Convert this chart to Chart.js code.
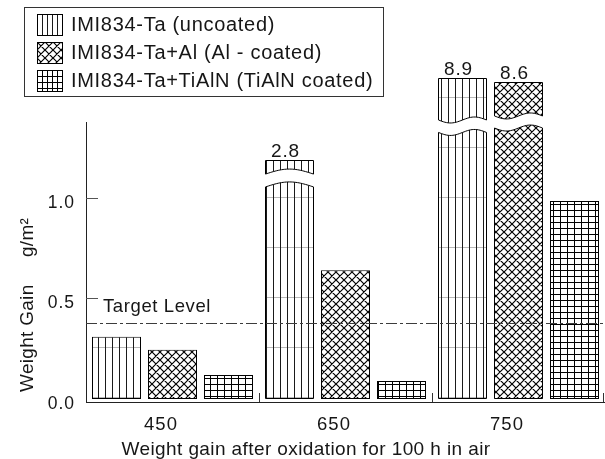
<!DOCTYPE html>
<html>
<head>
<meta charset="utf-8">
<style>
  html, body { margin: 0; padding: 0; background: #fff; }
  #wrap { position: relative; width: 605px; height: 459px; }
</style>
<script src="https://cdn.jsdelivr.net/npm/chart.js@4.4.1/dist/chart.umd.min.js"></script>
</head>
<body>
<div id="wrap"><canvas id="chart" width="605" height="459"></canvas></div>
<script>
// Oxidation temperatures (deg C) and weight gain (g/m^2) after 100 h in air
const temperatures = ['450', '650', '750'];
const uncoated = [0.31, 2.8, 8.9];
const alCoated = [0.245, 0.64, 8.6];
const tialnCoated = [0.12, 0.09, 0.985];
const seriesNames = ['IMI834-Ta (uncoated)', 'IMI834-Ta+Al (Al - coated)', 'IMI834-Ta+TiAlN (TiAlN coated)'];
const yTickValues = [0, 0.5, 1.0];
const targetLevel = 0.377;
const targetText = 'Target Level';
const xTitle = 'Weight gain after oxidation for 100 h in air';
const yTitleMain = 'Weight Gain';
const yTitleUnit = 'g/m\u00B2';

const Y_MIN = -0.0149;
const Y_MAX = 1.378;
const FONT = "'Liberation Sans', Arial, Helvetica, sans-serif";
const INK = '#161616';

// ---- hatch tiles ---------------------------------------------------------
function tile(w, h, paint) {
  const c = document.createElement('canvas');
  c.width = w; c.height = h;
  const g = c.getContext('2d');
  g.fillStyle = '#fff';
  g.fillRect(0, 0, w, h);
  paint(g, w, h);
  return c;
}
const hatch = {
  vertical: (step, mark) => tile(step, mark ? 50 : step, (g, w, h) => {
    g.fillStyle = '#1a1a1a';
    g.fillRect(0, 0, 1, h);
    if (mark) { g.fillStyle = '#b8b8b8'; g.fillRect(1, 47, w - 1, 1); }
  }),
  cross: (step) => tile(step, step, (g, w) => {
    g.strokeStyle = '#000';
    g.lineWidth = 1.2;
    g.beginPath();
    for (const o of [-w, 0, w]) {
      g.moveTo(o, 0); g.lineTo(o + w, w);
      g.moveTo(o, w); g.lineTo(o + w, 0);
    }
    g.stroke();
  }),
  grid: (sx, sy) => tile(sx, sy, (g, w, h) => {
    g.fillStyle = '#000';
    g.fillRect(0, 0, w, 1);
    g.fillRect(0, 0, 1, h);
  })
};

const canvas = document.getElementById('chart');
const ctx = canvas.getContext('2d');
const barFills = [
  ctx.createPattern(hatch.vertical(7, true), 'repeat'),
  ctx.createPattern(hatch.cross(8), 'repeat'),
  ctx.createPattern(hatch.grid(7, 6), 'repeat')
];
const keyFills = [
  ctx.createPattern(hatch.vertical(5, false), 'repeat'),
  ctx.createPattern(hatch.cross(8), 'repeat'),
  ctx.createPattern(hatch.grid(5, 6), 'repeat')
];

// Bars running off the axis are drawn broken: a lower stump and a detached cap.
const breakEdges = {
  arch: t => -5 * Math.sin(Math.PI * t),
  wave: t => 3 * Math.sin(2 * Math.PI * t)
};
const breakStyle = {
  '0:1': { lower: 1.055, cut: 1.119, top: 1.189, shape: 'arch' },
  '0:2': { lower: 1.326, cut: 1.388, top: 1.597, shape: 'wave' },
  '1:2': { lower: 1.348, cut: 1.408, top: 1.577, shape: 'wave' }
};

function hidden(fill) {
  return c => (c.raw > Y_MAX ? 'rgba(0,0,0,0)' : fill);
}
function edgeColor(c) {
  return c.raw > Y_MAX ? 'rgba(0,0,0,0)' : '#000';
}

function setText(g, size, spacing) {
  g.font = size + 'px ' + FONT;
  g.letterSpacing = spacing + 'px';
  g.fillStyle = INK;
}

const decor = {
  id: 'decor',
  beforeDraw(chart) {
    chart.ctx.letterSpacing = '1px';
  },
  afterDatasetsDraw(chart) {
    const g = chart.ctx;
    const y = chart.scales.y;
    const area = chart.chartArea;

    // broken bars
    chart.data.datasets.forEach((ds, d) => {
      const meta = chart.getDatasetMeta(d);
      ds.data.forEach((v, i) => {
        if (v <= Y_MAX) return;
        const spec = breakStyle[d + ':' + i];
        const el = meta.data[i];
        const p = el.getProps(['x', 'width', 'base'], true);
        const x0 = Math.round(p.x - p.width / 2) + 0.5;
        const x1 = Math.round(p.x + p.width / 2) - 0.5;
        const yLow = y.getPixelForValue(spec.lower);
        const yCut = y.getPixelForValue(spec.cut);
        const yTop = Math.round(y.getPixelForValue(spec.top)) + 0.5;
        const edge = breakEdges[spec.shape];
        const N = 30;
        g.save();
        g.strokeStyle = '#000';
        g.lineWidth = 1;
        g.fillStyle = barFills[d];
        g.beginPath();
        g.moveTo(x0, p.base - 0.5);
        for (let k = 0; k <= N; k++) {
          const t = k / N;
          g.lineTo(x0 + (x1 - x0) * t, yLow + edge(t));
        }
        g.lineTo(x1, p.base - 0.5);
        g.closePath();
        g.fill();
        g.stroke();

        g.beginPath();
        g.moveTo(x0, yTop);
        g.lineTo(x1, yTop);
        for (let k = N; k >= 0; k--) {
          const t = k / N;
          g.lineTo(x0 + (x1 - x0) * t, yCut + edge(t));
        }
        g.closePath();
        g.fill();
        g.stroke();

        setText(g, 19, 0.8);
        g.textAlign = 'center';
        g.textBaseline = 'alphabetic';
        g.fillText(v.toFixed(1), p.x - 4, yTop - 4);
        g.restore();
      });
    });

    // target level
    const ty = Math.round(y.getPixelForValue(targetLevel)) + 0.5;
    g.save();
    g.strokeStyle = '#3c3c3c';
    g.lineWidth = 1;
    g.setLineDash([11, 3, 3, 3]);
    g.beginPath();
    g.moveTo(area.left, ty);
    g.lineTo(chart.width, ty);
    g.stroke();
    g.restore();

    g.save();
    setText(g, 18.5, 0.6);
    g.textAlign = 'left';
    g.textBaseline = 'alphabetic';
    g.fillText(targetText, area.left + 17, ty - 11.5);
    g.restore();
  },
  afterDraw(chart) {
    const g = chart.ctx;
    const y = chart.scales.y;
    const x = chart.scales.x;
    const area = chart.chartArea;

    // inward y tick marks
    g.save();
    g.strokeStyle = '#555';
    g.lineWidth = 1;
    yTickValues.forEach(v => {
      if (v === 0) return;
      const py = Math.round(y.getPixelForValue(v)) + 0.5;
      g.beginPath();
      g.moveTo(area.left, py);
      g.lineTo(area.left + 12, py);
      g.stroke();
    });
    // category separators on the x axis
    g.strokeStyle = '#333';
    for (let i = 1; i <= temperatures.length; i++) {
      const px = Math.min(Math.round(x.getPixelForValue(i - 0.5)) + 0.5, chart.width - 1.5);
      g.beginPath();
      g.moveTo(px, area.bottom);
      g.lineTo(px, area.bottom - 9);
      g.stroke();
    }
    g.restore();

    // axis titles
    g.save();
    setText(g, 19, 0.4);
    g.textAlign = 'center';
    g.textBaseline = 'alphabetic';
    g.fillText(xTitle, 306, 455);
    g.translate(33, 392);
    g.rotate(-Math.PI / 2);
    g.textAlign = 'left';
    g.letterSpacing = '0.3px';
    g.fillText(yTitleMain, 0, 0);
    g.fillText(yTitleUnit, 135, 0);
    g.restore();

    // legend
    g.save();
    g.strokeStyle = '#333';
    g.lineWidth = 1;
    g.strokeRect(24.5, 7.5, 359, 89);
    seriesNames.forEach((name, k) => {
      const cy = 24 + k * 28;
      const sx = 37, sy = cy - 10, sw = 25, sh = 21;
      g.save();
      g.translate(sx, sy);
      g.fillStyle = keyFills[k];
      g.fillRect(0, 0, sw, sh);
      g.strokeStyle = '#000';
      g.strokeRect(0.5, 0.5, sw, sh);
      g.restore();
      setText(g, 20, 0.7);
      g.textAlign = 'left';
      g.textBaseline = 'alphabetic';
      g.fillText(name, 71, cy + 7);
    });
    g.restore();
  }
};

const datasets = [uncoated, alCoated, tialnCoated].map((values, d) => ({
  label: seriesNames[d],
  data: values,
  backgroundColor: hidden(barFills[d]),
  borderColor: edgeColor,
  borderWidth: 1,
  borderSkipped: false
}));

new Chart(ctx, {
  type: 'bar',
  data: { labels: temperatures, datasets },
  options: {
    responsive: false,
    animation: false,
    devicePixelRatio: 1,
    layout: { padding: { top: 122, right: 0, left: 0, bottom: 0 } },
    datasets: { bar: { categoryPercentage: 0.9711, barPercentage: 0.875 } },
    plugins: { legend: { display: false }, tooltip: { enabled: false } },
    scales: {
      x: {
        grid: { display: false, drawTicks: false },
        border: { display: true, color: '#222', width: 1 },
        ticks: {
          color: INK,
          font: { family: FONT, size: 18.5 },
          padding: 12,
          labelOffset: -11.5,
          maxRotation: 0
        },
        afterFit: s => { s.height = 57; }
      },
      y: {
        min: Y_MIN,
        max: Y_MAX,
        grid: { display: false, drawTicks: false },
        border: { display: true, color: '#222', width: 1 },
        ticks: {
          color: INK,
          font: { family: FONT, size: 17.5 },
          padding: 11,
          labelOffset: 5,
          callback: v => Number(v).toFixed(1)
        },
        afterBuildTicks: s => { s.ticks = yTickValues.map(v => ({ value: v })); },
        afterFit: s => { s.width = 86; }
      }
    }
  },
  plugins: [decor]
});
</script>
</body>
</html>
